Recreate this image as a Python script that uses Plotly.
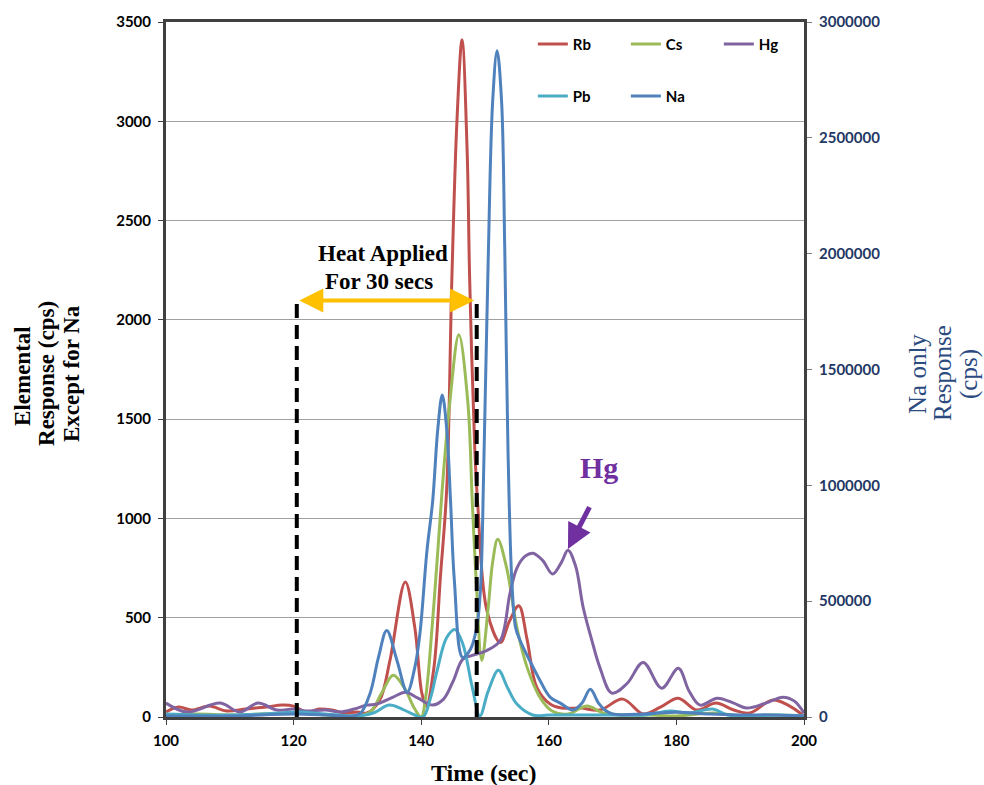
import plotly.graph_objects as go

# ---- data (time in sec, responses in cps) ----
t_rb = [100, 102, 104, 106.8, 109.5, 112.5, 115.7, 118.2, 120, 122,
        124, 126, 128, 130, 131.5, 133.5, 135.1, 137.5, 139.0, 140.1,
        140.8, 142.0, 143.0, 144.0, 144.8, 145.6, 146.4, 147.2, 147.6, 148.4,
        148.9, 150.3, 152.4, 153.8, 155.3, 156.6, 158.1, 160.2, 162, 165,
        168, 171.6, 174.8, 177.5, 180.3, 183.2, 186.2, 189, 191.5, 195,
        197.5, 200]
rb = [25, 50, 35, 55, 30, 40, 50, 60, 55, 25,
      40, 35, 20, 25, 20, 85, 285, 680, 450, 120,
      55, 250, 700, 1150, 2200, 3000, 3410, 2850, 2200, 1350,
      1050, 535, 375, 480, 560, 390, 150, 65, 45, 45,
      35, 90, 15, 50, 95, 35, 70, 35, 20, 85,
      60, 5]

t_cs = [100, 105, 110, 115, 120, 125, 130, 132, 133.8, 135.6,
        137.3, 139, 140.0, 140.7, 141.7, 142.5, 143.3, 144.5, 145.9, 147.3,
        148.0, 148.6, 149.5, 150.5, 151.2, 152.0, 153.4, 155.0, 156.6, 158.6,
        160.5, 163, 166, 168.5, 172, 176, 180, 186, 190, 195,
        200]
cs = [10, 15, 10, 15, 20, 10, 5, 25, 120, 210,
      150, 40, 0, 100, 450, 790, 1150, 1590, 1925, 1590,
      1090, 700, 285, 550, 780, 895, 750, 450, 250, 100,
      30, 15, 55, 20, 10, 10, 5, 20, 5, 10,
      5]

t_hg = [100, 103.3, 108.5, 111.6, 114.4, 117.4, 120, 122, 125, 127.3,
        129.5, 131.5, 133, 135.6, 137.5, 139.5, 141.8, 143.5, 145, 146.5,
        148, 150.3, 152.4, 153.9, 155, 156.3, 157.5, 159, 160.6, 162,
        163, 164.2, 165.4, 166.8, 168, 169.9, 172.3, 174.8, 177.7, 180.3,
        182, 183.7, 186.4, 189, 191, 194, 196.7, 198.5, 200]
hg = [70, 25, 70, 25, 70, 35, 40, 30, 35, 25,
      40, 60, 65, 100, 125, 95, 60, 90, 180, 290,
      310, 335, 385, 620, 750, 810, 825, 790, 720, 780,
      840, 760, 550, 380, 250, 120, 170, 275, 145, 245,
      130, 60, 95, 70, 45, 70, 100, 80, 20]

t_pb = [100, 105, 110, 115, 118, 121, 125, 130, 132.5, 135,
        137, 139, 140.3, 141.5, 142.5, 144, 145.3, 146.5, 148, 149.2,
        150.5, 152.1, 153.5, 155, 157.5, 160, 165, 170, 175, 179,
        182, 185.7, 188, 192, 196, 200]
pb = [15, 10, 10, 15, 20, 25, 15, 5, 20, 60,
      40, 10, 0, 100, 235, 400, 440, 370, 150, 5,
      130, 235, 150, 65, 10, 10, 10, 10, 10, 30,
      20, 40, 10, 5, 10, 5]

t_na = [100, 105, 110, 115, 120, 125, 129, 130.5, 132, 133.3,
        134.6, 136.2, 137.8, 139.0, 139.8, 140.9, 141.8, 142.6, 143.3, 144.0,
        144.6, 145.2, 146.5, 147.7, 148.7, 149.3, 149.8, 150.5, 151.2, 151.9,
        152.6, 153.1, 153.6, 154.2, 154.8, 155.5, 157, 158.6, 160.2, 161.8,
        163.8, 165.2, 166.5, 167.8, 168.8, 170, 175, 180, 185, 190,
        195, 200]
na = [4000, 4000, 4000, 9000, 13000, 9000, 4000, 17000, 103000, 257000,
      373000, 244000, 107000, 214000, 360000, 717000, 932000, 1243000, 1390000, 1243000,
      932000, 588000, 257000, 291000, 386000, 557000, 1071000, 1971000, 2657000, 2876000,
      2657000, 2014000, 1157000, 591000, 386000, 330000, 244000, 159000, 86000, 60000,
      30000, 60000, 120000, 60000, 30000, 13000, 13000, 21000, 13000, 9000,
      9000, 4000]

heat_start = 120.5
heat_end = 148.7
heat_level = 2098

# ---- styles ----
C_RB, C_CS, C_HG, C_PB, C_NA = "#C0504D", "#9BBB59", "#8064A2", "#4BACC6", "#4F81BD"
NAVY = "#1F3864"
SERIF = "Liberation Serif"
SANS = "Lato"

W, H = 984, 785
L, R, T, B = 166, 180, 18, 68
pw, ph = W - L - R, H - T - B

fig = go.Figure()

def add(t, v, name, color, legend="legend", yaxis="y"):
    fig.add_trace(go.Scatter(
        x=t, y=v, name=name, mode="lines", yaxis=yaxis, legend=legend,
        line=dict(color=color, width=3, shape="spline", smoothing=1.0)))

add(t_rb, rb, "Rb", C_RB)
add(t_cs, cs, "Cs", C_CS)
add(t_hg, hg, "Hg", C_HG)
add(t_pb, pb, "Pb", C_PB, legend="legend2")
add(t_na, na, "Na", C_NA, legend="legend2", yaxis="y2")

tickfont = dict(family=SANS, size=15, color="black", weight="bold")
legfont = dict(family=SANS, size=15, color="black", weight="bold")

fig.update_layout(
    width=W, height=H,
    margin=dict(l=L, r=R, t=T, b=B),
    paper_bgcolor="white", plot_bgcolor="white",
    showlegend=True,
    xaxis=dict(range=[100, 200], dtick=20, tick0=100, showgrid=False, zeroline=False,
               showline=True, linecolor="#404040", linewidth=3, mirror=True,
               ticks="outside", ticklen=5, tickcolor="#404040",
               tickfont=tickfont, ticklabelstandoff=3),
    yaxis=dict(range=[0, 3500], dtick=500, showgrid=True, gridcolor="#A0A0A0", gridwidth=1,
               zeroline=False, showline=True, linecolor="#404040", linewidth=3,
               ticks="outside", ticklen=5, tickcolor="#404040", tickfont=tickfont,
               ticklabelstandoff=4),
    yaxis2=dict(range=[0, 3000000], dtick=500000, overlaying="y", side="right",
                showgrid=False, zeroline=False, showline=True, linecolor="#404040", linewidth=3,
                ticks="outside", ticklen=5, tickcolor="#808080", tickformat="d",
                tickfont=dict(family=SANS, size=15, color=NAVY, weight="bold"),
                ticklabelstandoff=4),
    legend=dict(orientation="h", x=0.575, y=0.968, xanchor="left", yanchor="middle",
                bgcolor="rgba(0,0,0,0)", font=legfont, entrywidth=48, entrywidthmode="pixels",
                itemwidth=30),
    legend2=dict(orientation="h", x=0.575, y=0.893, xanchor="left", yanchor="middle",
                 bgcolor="rgba(0,0,0,0)", font=legfont, entrywidth=48, entrywidthmode="pixels",
                 itemwidth=30),
)

# dashed markers for heating window
for xv in (heat_start, heat_end):
    fig.add_shape(type="line", xref="x", yref="y", x0=xv, x1=xv, y0=0, y1=heat_level,
                  line=dict(color="black", width=4, dash="14px,7px"))

# double-headed orange arrow: shaft + two heads
fig.add_shape(type="line", xref="x", yref="y", x0=heat_start + 1.5, x1=heat_end - 1.5,
              y0=heat_level, y1=heat_level, line=dict(color="#FFC000", width=4))
for tip, tail in ((heat_start + 0.4, heat_start + 3.0), (heat_end - 0.4, heat_end - 3.0)):
    fig.add_annotation(x=tip, y=heat_level, ax=tail, ay=heat_level, xref="x", yref="y",
                       axref="x", ayref="y", showarrow=True, arrowhead=2, arrowsize=1.2,
                       arrowwidth=4, arrowcolor="#FFC000", text="")

# Hg arrow
fig.add_annotation(x=163.0, y=846, ax=166.5, ay=1065, xref="x", yref="y", axref="x", ayref="y",
                   showarrow=True, arrowhead=2, arrowsize=1, arrowwidth=5, arrowcolor="#7030A0",
                   text="")

# text placed by pixel centre: (text, px, py, size, color, bold, angle)
texts = [
    ("Heat Applied", 383, 251, 23, "black", True, 0),
    ("For 30 secs", 379, 279, 23, "black", True, 0),
    ("Hg", 599, 466, 30, "#7030A0", True, 0),
    ("Elemental", 23, 374, 23, "black", True, -90),
    ("Response (cps)", 47, 372, 23, "black", True, -90),
    ("Except for Na", 72, 372, 23, "black", True, -90),
    ("Time (sec)", 484, 773, 24, "black", True, 0),
    ("Na only", 918, 372, 25, "#2B4A80", False, -90),
    ("Response", 943, 371, 25, "#2B4A80", False, -90),
    ("(cps)", 969, 372, 25, "#2B4A80", False, -90),
]
for txt, px, py, sz, col, bold, ang in texts:
    fig.add_annotation(x=(px - L) / pw, y=(H - B - py) / ph, xref="paper", yref="paper",
                       xanchor="center", yanchor="middle", showarrow=False, text=txt,
                       textangle=ang,
                       font=dict(family=SERIF, size=sz, color=col,
                                 weight="bold" if bold else "normal"))

fig.write_html("out.html")
